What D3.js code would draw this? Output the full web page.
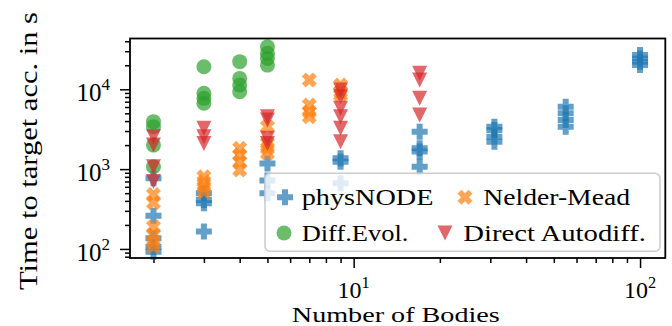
<!DOCTYPE html>
<html>
<head>
<meta charset="utf-8">
<script src="https://cdn.jsdelivr.net/npm/d3@7"></script>
<style>
  body { margin: 0; background: #fff; }
  svg text { font-family: "Liberation Serif", "Times New Roman", serif; fill: #000; }
</style>
</head>
<body>
<svg width="672" height="326"></svg>
<script>
// number of bodies (x) and time in s (y)
const physNodeN = [2,2,2,2,2, 3,3,3,3, 5,5,5, 9,9,9, 17,17,17,17, 31,31,31,31, 55,55,55,55, 100,100,100,100]
const physNodeT = [770,260,136,106,92, 500,410,373,165, 1180,720,500, 1370,1240,665, 2940,1820,1660,1070, 3400,3090,2550,2210, 6050,5000,4130,3400, 26900,24400,22200,20100]

const diffEvolN = [2,2,2,2, 3,3,3,3, 4,4,4,4, 5,5,5,5]
const diffEvolT = [3930,3400,2000,1070, 19200,8900,7700,6680, 22200,13700,11300,9330, 34200,28200,24400,20100]

const nelderN = [2,2,2,2,2,2, 3,3,3,3, 4,4,4,4, 5,5,5,5, 7,7,7,7, 9,9,9]
const nelderT = [480,380,190,150,124,107, 800,695,600,520, 1820,1500,1240,975, 3400,2100,1820,1580, 13100,6360,5240,4540, 11300,9330,8490]

const autodiffN = [2,2,2,2, 3,3,3, 5,5,5,5, 9,9,9,9,9,9, 17,17,17,17]
const autodiffT = [2550,2000,1070,700, 3240,2550,2100, 4540,4130,2430,2100, 9800,8080,5780,4540,3240,2210, 15900,13100,7710,4760]

const seriesNames = ["physNODE", "Diff.Evol.", "Nelder-Mead", "Direct Autodiff."]
const seriesColors = ["#1f77b4", "#2ca02c", "#ff7f0e", "#d62728"]

const xMajor = [10, 100]
const xMinor = [2,3,4,5,6,7,8,9,20,30,40,50,60,70,80,90]
const yMajor = [100, 1000, 10000]
const yMinor = [80,90,200,300,400,500,600,700,800,900,2000,3000,4000,5000,6000,7000,8000,9000,20000,30000,40000]

const svg = d3.select("svg")
const axLeft = 130, axRight = 665.3, axTop = 38.5, axBottom = 258

const x = d3.scaleLog().domain([1.656, 122.5]).range([axLeft, axRight])
const y = d3.scaleLog().domain([77, 43300]).range([axBottom, axTop])

// marker shapes
function plusPath(h, t) {
    return "M" + (-t) + "," + (-h) + "H" + t + "V" + (-t) + "H" + h + "V" + t + "H" + t + "V" + h +
        "H" + (-t) + "V" + t + "H" + (-h) + "V" + (-t) + "H" + (-t) + "Z"
}
const shapes = {
    plus: plusPath(8, 3),
    cross: plusPath(7.8, 2.8),
    tri: "M-7.5,-7.5L7.5,-7.5L0,7.5Z"
}
function marker(g, kind, color) {
    if (kind == "circle") {
        return g.append("circle").attr("r", 7.5).attr("fill", color).attr("fill-opacity", 0.7)
    }
    let p = g.append("path").attr("d", shapes[kind]).attr("fill", color).attr("fill-opacity", 0.7)
    if (kind == "cross") p.attr("transform", "rotate(45)")
    return p
}

const series = [
    {n: physNodeN, t: physNodeT, kind: "plus"},
    {n: diffEvolN, t: diffEvolT, kind: "circle"},
    {n: nelderN, t: nelderT, kind: "cross"},
    {n: autodiffN, t: autodiffT, kind: "tri"}
]

// ticks
function tickAxis(axis, tr) {
    let g = svg.append("g").attr("transform", tr).call(axis)
    g.select(".domain").remove()
    g.selectAll(".tick line").attr("stroke", "#000").attr("stroke-width", 1.5)
    return g
}
tickAxis(d3.axisBottom(x).tickValues(xMinor).tickSize(5).tickFormat(""), "translate(0," + axBottom + ")")
tickAxis(d3.axisBottom(x).tickValues(xMajor).tickSize(10).tickFormat(""), "translate(0," + axBottom + ")")
tickAxis(d3.axisLeft(y).tickValues(yMinor).tickSize(5).tickFormat(""), "translate(" + axLeft + ",0)")
tickAxis(d3.axisLeft(y).tickValues(yMajor).tickSize(10).tickFormat(""), "translate(" + axLeft + ",0)")

// tick labels as 10^k
function powLabel(px, py, anchor, v, supDy, size) {
    let t = svg.append("text").attr("x", px).attr("y", py).attr("text-anchor", anchor).attr("font-size", size)
    t.append("tspan").text("10")
    t.append("tspan").attr("font-size", size * 0.68).attr("dy", supDy).text(Math.round(Math.log10(v)))
}
xMajor.forEach(v => powLabel(x(v), 297.5, "middle", v, -10, 24))
yMajor.forEach(v => powLabel(110, y(v) + 12, "end", v, -11, 25))

// points
const plot = svg.append("g")
series.forEach((s, i) => {
    s.n.forEach((n, j) => {
        let g = plot.append("g").attr("transform", "translate(" + x(n) + "," + y(s.t[j]) + ")")
        marker(g, s.kind, seriesColors[i])
    })
})

// frame
svg.append("rect").attr("x", axLeft).attr("y", axTop).attr("width", axRight - axLeft).attr("height", axBottom - axTop)
    .attr("fill", "none").attr("stroke", "#000").attr("stroke-width", 1.8)

// axis labels
svg.append("text").attr("x", 395.8).attr("y", 321.5).attr("text-anchor", "middle").attr("font-size", 21)
    .attr("textLength", 208).attr("lengthAdjust", "spacingAndGlyphs").text("Number of Bodies")
svg.append("text").attr("transform", "translate(37,151) rotate(-90)").attr("text-anchor", "middle").attr("font-size", 25)
    .attr("textLength", 278).attr("lengthAdjust", "spacingAndGlyphs").text("Time to target acc. in s")

// legend
const legend = svg.append("g")
legend.append("rect").attr("x", 265).attr("y", 173.3).attr("width", 395).attr("height", 78).attr("rx", 5)
    .attr("fill", "#fff").attr("fill-opacity", 0.8).attr("stroke", "#cccccc").attr("stroke-width", 1.5)
const legendPos = [[285, 197.3, 301.7, 131.7], [284, 233, 301.7, 106.7], [465, 197.3, 483.3, 146.7], [445, 233, 463.3, 182.7]]
series.forEach((s, i) => {
    let p = legendPos[i]
    let g = legend.append("g").attr("transform", "translate(" + p[0] + "," + p[1] + ")")
    marker(g, s.kind, seriesColors[i])
    legend.append("text").attr("x", p[2]).attr("y", p[1] + 7.7).attr("font-size", 22.5)
        .attr("textLength", p[3]).attr("lengthAdjust", "spacingAndGlyphs").text(seriesNames[i])
})
</script>
</body>
</html>
